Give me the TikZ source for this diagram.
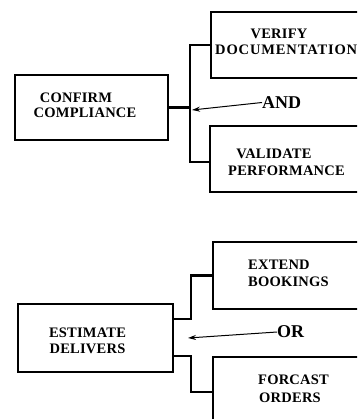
\documentclass[tikz,border=0pt]{standalone}
\usepackage{fontspec}
\setmainfont{Liberation Serif}
\newfontfamily\lblfont[LetterSpace=1.5]{Liberation Serif}
\newfontfamily\widefont[LetterSpace=6]{Liberation Serif}
\usetikzlibrary{arrows.meta}
\begin{document}
\begin{tikzpicture}[x=1pt,y=-1pt,
  box/.style={draw,line width=2.2pt,rectangle,inner sep=0pt},
  lbl/.style={inner sep=0pt,font=\lblfont\fontsize{14.5}{15}\selectfont\bfseries},
  widelbl/.style={inner sep=0pt,font=\widefont\fontsize{14.5}{15}\selectfont\bfseries},
  gate/.style={inner sep=0pt,font=\fontsize{18}{18}\selectfont\bfseries},
  wire/.style={line width=2.2pt},
  ptr/.style={line width=1pt,-{Stealth[length=8pt,width=5pt]}}]
\useasboundingbox (0,0) rectangle (357,419);
\clip (0,0) rectangle (357,419);
% top group
\node[box,minimum width=153pt,minimum height=65pt] (cc) at (91.5,107.5) {};
\node[box,minimum width=179pt,minimum height=66pt] (vd) at (300.5,45) {};
\node[box,minimum width=180pt,minimum height=66pt] (vp) at (300,159) {};
\node[lbl] (cc1) at (76,97.5) {CONFIRM};
\node[lbl] (cc2) at (85,113) {COMPLIANCE};
\node[lbl] (vd1) at (279,34) {VERIFY};
\node[widelbl,anchor=west] (vd2) at (215,49.5) {DOCUMENTATION};
\node[lbl] (vp1) at (274,154) {VALIDATE};
\node[lbl] (vp2) at (286.5,171) {PERFORMANCE};
\coordinate (j1) at (190,107.5);
\draw[wire] (cc.east) -- (j1);
\draw[wire] (vd.west) -| (j1) |- ([yshift=-3pt]vp.west);
\node[gate,anchor=west] (and) at (262,102.5) {AND};
\coordinate (a1) at (192,110);
\draw[ptr] (and.west) -- (a1);
% bottom group
\node[box,minimum width=155pt,minimum height=68pt] (ed) at (95.5,338) {};
\node[box,minimum width=177pt,minimum height=67pt] (eb) at (301.5,275.5) {};
\node[box,minimum width=177pt,minimum height=83pt] (fo) at (301.5,398.5) {};
\node[lbl] (ed1) at (87.5,332.5) {ESTIMATE};
\node[lbl] (ed2) at (87.5,348.5) {DELIVERS};
\node[lbl,anchor=west] (eb1) at (248,265) {EXTEND};
\node[lbl,anchor=west] (eb2) at (248,282) {BOOKINGS};
\node[lbl] (fo1) at (293.5,379.5) {FORCAST};
\node[lbl] (fo2) at (290,397.5) {ORDERS};
\draw[wire] ([yshift=19pt]ed.east) -| ([xshift=-21pt]eb.west) -- (eb.west);
\draw[wire] ([yshift=-18pt]ed.east) -| ([xshift=-21pt,yshift=6.5pt]fo.west) -- ([yshift=6.5pt]fo.west);
\node[gate,anchor=west] (or) at (277,332) {OR};
\coordinate (o1) at (188,338);
\draw[ptr] (or.west) -- (o1);
\end{tikzpicture}
\end{document}
